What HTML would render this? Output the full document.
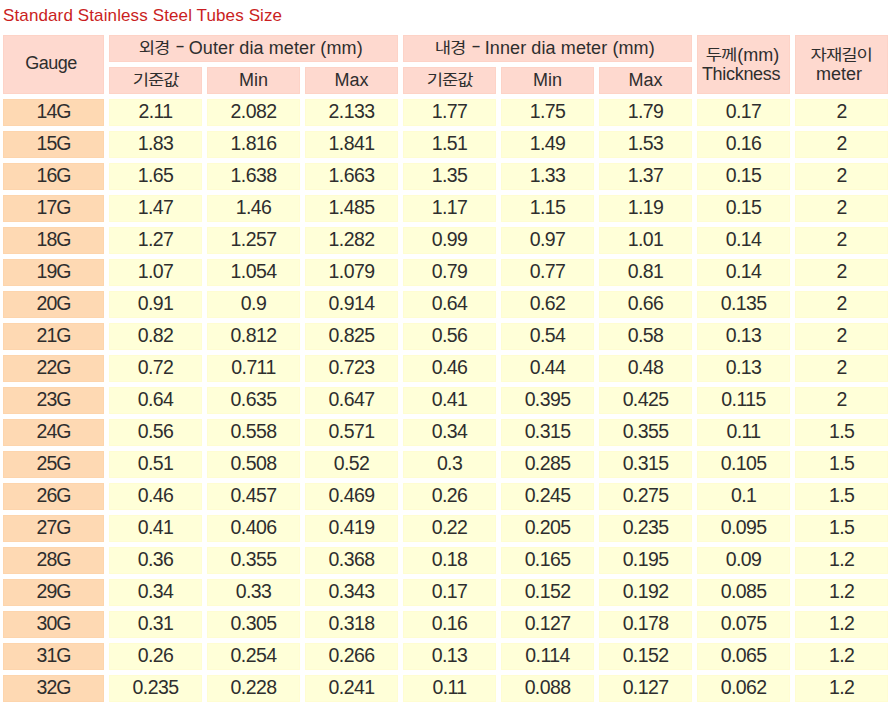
<!DOCTYPE html>
<html><head><meta charset="utf-8"><title>Standard Stainless Steel Tubes Size</title>
<style>
html,body{margin:0;padding:0;background:#fff;}
body{width:893px;height:726px;overflow:hidden;position:relative;font-family:"Liberation Sans","Noto Sans CJK KR",sans-serif;color:#2e2e2e;}
h1{position:absolute;left:3px;top:2px;margin:0;font-weight:normal;font-size:17px;letter-spacing:0.12px;line-height:28px;color:#ca1e22;white-space:nowrap;}
table{position:absolute;left:-2px;top:30px;width:895px;border-collapse:separate;border-spacing:5px;table-layout:fixed;}
td,th{box-sizing:border-box;height:27px;padding:0;text-align:center;white-space:nowrap;overflow:hidden;}
th{font-weight:normal;font-size:18px;line-height:25px;background:#fed9cf;border:1px solid #fdd3c7;}
th.gg{letter-spacing:-0.5px;padding:0 5px 3px 0;}
th.w{letter-spacing:0.1px;padding-right:5px;}
td{font-size:19.5px;letter-spacing:-0.6px;line-height:23px;padding-bottom:2px;background:#ffffd8;border:1px solid #fffdd2;}
td.g{background:#fed9b3;border-color:#fdd5ad;letter-spacing:-1px;}
.k{display:inline-block;font-family:"Noto Sans CJK KR",sans-serif;font-weight:400;font-size:15.2px;line-height:0;letter-spacing:-0.85px;transform:translateY(-1px) scaleX(1.17);margin:0 2.2px;}
.k3{margin:0 3.4px;}
.k4{margin:0 4.5px;}
.d{display:inline-block;transform:scaleX(1.6);margin:0 2px;position:relative;top:-2.5px;}
th.two{line-height:19px;}
th.two span.l1{padding-right:2px;}
th.two span.l2{padding-right:5px;}
th.two span.l1.j{padding-right:0;}
th.two span.l1,th.two span.l2{display:block;}
th.two span.l2.t{letter-spacing:-0.3px;}
.k.kd{margin-right:3px;}
.d{margin:0 0.5px 0 2px !important;}

</style></head><body>
<h1>Standard Stainless Steel Tubes Size</h1>
<table>
<colgroup><col style="width:101px"><col style="width:93px"><col style="width:93px"><col style="width:93px"><col style="width:93px"><col style="width:93px"><col style="width:93px"><col style="width:93px"><col style="width:93px"></colgroup>
<thead>
<tr><th class="gg" rowspan="2">Gauge</th><th class="w" colspan="3"><span class="k">외경</span> <span class="d">-</span> Outer dia meter (mm)</th><th class="w" colspan="3"><span class="k">내경</span> <span class="d">-</span> Inner dia meter (mm)</th><th class="two" rowspan="2"><span class="l1"><span class="k kd">두께</span>(mm)</span><span class="l2 t">Thickness</span></th><th class="two" rowspan="2"><span class="l1 j"><span class="k k4">자재길이</span></span><span class="l2">meter</span></th></tr>
<tr><th><span class="k k3">기준값</span></th><th>Min</th><th>Max</th><th><span class="k k3">기준값</span></th><th>Min</th><th>Max</th></tr>
</thead>
<tbody>
<tr><td class="g">14G</td><td>2.11</td><td>2.082</td><td>2.133</td><td>1.77</td><td>1.75</td><td>1.79</td><td>0.17</td><td>2</td></tr>
<tr><td class="g">15G</td><td>1.83</td><td>1.816</td><td>1.841</td><td>1.51</td><td>1.49</td><td>1.53</td><td>0.16</td><td>2</td></tr>
<tr><td class="g">16G</td><td>1.65</td><td>1.638</td><td>1.663</td><td>1.35</td><td>1.33</td><td>1.37</td><td>0.15</td><td>2</td></tr>
<tr><td class="g">17G</td><td>1.47</td><td>1.46</td><td>1.485</td><td>1.17</td><td>1.15</td><td>1.19</td><td>0.15</td><td>2</td></tr>
<tr><td class="g">18G</td><td>1.27</td><td>1.257</td><td>1.282</td><td>0.99</td><td>0.97</td><td>1.01</td><td>0.14</td><td>2</td></tr>
<tr><td class="g">19G</td><td>1.07</td><td>1.054</td><td>1.079</td><td>0.79</td><td>0.77</td><td>0.81</td><td>0.14</td><td>2</td></tr>
<tr><td class="g">20G</td><td>0.91</td><td>0.9</td><td>0.914</td><td>0.64</td><td>0.62</td><td>0.66</td><td>0.135</td><td>2</td></tr>
<tr><td class="g">21G</td><td>0.82</td><td>0.812</td><td>0.825</td><td>0.56</td><td>0.54</td><td>0.58</td><td>0.13</td><td>2</td></tr>
<tr><td class="g">22G</td><td>0.72</td><td>0.711</td><td>0.723</td><td>0.46</td><td>0.44</td><td>0.48</td><td>0.13</td><td>2</td></tr>
<tr><td class="g">23G</td><td>0.64</td><td>0.635</td><td>0.647</td><td>0.41</td><td>0.395</td><td>0.425</td><td>0.115</td><td>2</td></tr>
<tr><td class="g">24G</td><td>0.56</td><td>0.558</td><td>0.571</td><td>0.34</td><td>0.315</td><td>0.355</td><td>0.11</td><td>1.5</td></tr>
<tr><td class="g">25G</td><td>0.51</td><td>0.508</td><td>0.52</td><td>0.3</td><td>0.285</td><td>0.315</td><td>0.105</td><td>1.5</td></tr>
<tr><td class="g">26G</td><td>0.46</td><td>0.457</td><td>0.469</td><td>0.26</td><td>0.245</td><td>0.275</td><td>0.1</td><td>1.5</td></tr>
<tr><td class="g">27G</td><td>0.41</td><td>0.406</td><td>0.419</td><td>0.22</td><td>0.205</td><td>0.235</td><td>0.095</td><td>1.5</td></tr>
<tr><td class="g">28G</td><td>0.36</td><td>0.355</td><td>0.368</td><td>0.18</td><td>0.165</td><td>0.195</td><td>0.09</td><td>1.2</td></tr>
<tr><td class="g">29G</td><td>0.34</td><td>0.33</td><td>0.343</td><td>0.17</td><td>0.152</td><td>0.192</td><td>0.085</td><td>1.2</td></tr>
<tr><td class="g">30G</td><td>0.31</td><td>0.305</td><td>0.318</td><td>0.16</td><td>0.127</td><td>0.178</td><td>0.075</td><td>1.2</td></tr>
<tr><td class="g">31G</td><td>0.26</td><td>0.254</td><td>0.266</td><td>0.13</td><td>0.114</td><td>0.152</td><td>0.065</td><td>1.2</td></tr>
<tr><td class="g">32G</td><td>0.235</td><td>0.228</td><td>0.241</td><td>0.11</td><td>0.088</td><td>0.127</td><td>0.062</td><td>1.2</td></tr>
</tbody>
</table>
</body></html>
